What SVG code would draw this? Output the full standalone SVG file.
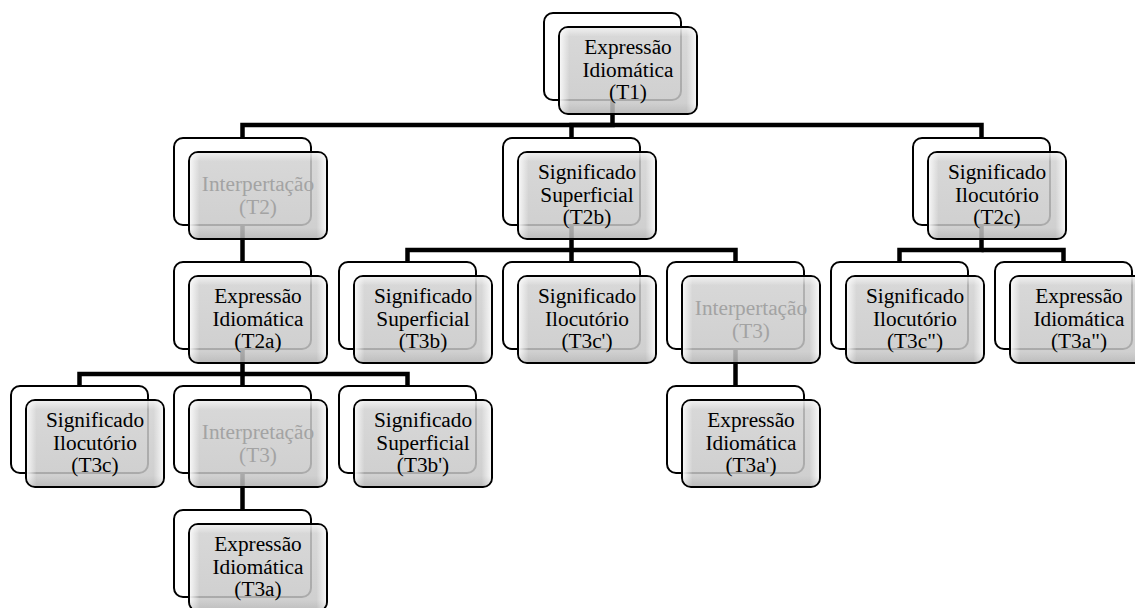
<svg xmlns="http://www.w3.org/2000/svg" width="1135" height="608" viewBox="0 0 1135 608">
<defs>
<linearGradient id="fg" x1="0" y1="0" x2="0" y2="1">
<stop offset="0" stop-color="#d2d2d2"/><stop offset="1" stop-color="#c6c6c6"/>
</linearGradient>
<linearGradient id="bevh" x1="0" y1="0" x2="1" y2="0">
<stop offset="0" stop-color="#ffffff" stop-opacity="0.8"/><stop offset="0.07" stop-color="#ffffff" stop-opacity="0"/>
<stop offset="0.93" stop-color="#ffffff" stop-opacity="0"/><stop offset="1" stop-color="#ffffff" stop-opacity="0.8"/>
</linearGradient>
<linearGradient id="bevv" x1="0" y1="0" x2="0" y2="1">
<stop offset="0" stop-color="#ffffff" stop-opacity="0.6"/><stop offset="0.1" stop-color="#ffffff" stop-opacity="0"/>
<stop offset="0.88" stop-color="#000000" stop-opacity="0"/><stop offset="1" stop-color="#000000" stop-opacity="0.08"/>
</linearGradient>
</defs>
<style>
.back{fill:#ffffff;stroke:#000;stroke-width:2}
.front{fill:url(#fg);fill-opacity:0.85;stroke:#000;stroke-width:2}
.bh{fill:url(#bevh);stroke:none}
.bv{fill:url(#bevv);stroke:none}
.lbl{font-family:'Liberation Serif','Times New Roman',serif;font-size:21.3px;text-anchor:middle;fill:#000}
.dim{fill:#a3a3a3}
.conn{fill:none;stroke:#000;stroke-width:4.5;stroke-linejoin:miter}
</style>
<g id="connectors">
<path class="conn" d="M612.5,100 V125 H242.5 V138"/>
<path class="conn" d="M612.5,125 H571.5 V138"/>
<path class="conn" d="M612.5,125 H981.5 V138"/>
<path class="conn" d="M242.5,225 V262"/>
<path class="conn" d="M571.5,225 V250 H407.5 V262"/>
<path class="conn" d="M571.5,250 V262"/>
<path class="conn" d="M571.5,250 H735.5 V262"/>
<path class="conn" d="M981.5,225 V250 H899.5 V262"/>
<path class="conn" d="M981.5,250 H1063.5 V262"/>
<path class="conn" d="M242.5,349 V374 H79.5 V386"/>
<path class="conn" d="M242.5,374 V386"/>
<path class="conn" d="M242.5,374 H407.5 V386"/>
<path class="conn" d="M735.5,349 V386"/>
<path class="conn" d="M242.5,473 V510"/>
</g>
<g id="n-t1">
<rect class="back" x="544" y="13" width="137" height="87" rx="9"/>
<rect class="front" x="559" y="27" width="138" height="87" rx="9"/>
<rect class="bh" x="560" y="28" width="136" height="85" rx="8"/><rect class="bv" x="560" y="28" width="136" height="85" rx="8"/>
<text class="lbl"><tspan x="628" y="54">Expressão</tspan><tspan x="628" y="76.5">Idiomática</tspan><tspan x="628" y="99">(T1)</tspan></text>
</g>
<g id="n-t2">
<rect class="back" x="174" y="138" width="137" height="87" rx="9"/>
<rect class="front" x="189" y="152" width="138" height="87" rx="9"/>
<rect class="bh" x="190" y="153" width="136" height="85" rx="8"/><rect class="bv" x="190" y="153" width="136" height="85" rx="8"/>
<text class="lbl dim"><tspan x="258" y="191">Interpertação</tspan><tspan x="258" y="213.5">(T2)</tspan></text>
</g>
<g id="n-t2b">
<rect class="back" x="503" y="138" width="137" height="87" rx="9"/>
<rect class="front" x="518" y="152" width="138" height="87" rx="9"/>
<rect class="bh" x="519" y="153" width="136" height="85" rx="8"/><rect class="bv" x="519" y="153" width="136" height="85" rx="8"/>
<text class="lbl"><tspan x="587" y="179">Significado</tspan><tspan x="587" y="201.5">Superficial</tspan><tspan x="587" y="224">(T2b)</tspan></text>
</g>
<g id="n-t2c">
<rect class="back" x="913" y="138" width="137" height="87" rx="9"/>
<rect class="front" x="928" y="152" width="138" height="87" rx="9"/>
<rect class="bh" x="929" y="153" width="136" height="85" rx="8"/><rect class="bv" x="929" y="153" width="136" height="85" rx="8"/>
<text class="lbl"><tspan x="997" y="179">Significado</tspan><tspan x="997" y="201.5">Ilocutório</tspan><tspan x="997" y="224">(T2c)</tspan></text>
</g>
<g id="n-t2a">
<rect class="back" x="174" y="262" width="137" height="87" rx="9"/>
<rect class="front" x="189" y="276" width="138" height="87" rx="9"/>
<rect class="bh" x="190" y="277" width="136" height="85" rx="8"/><rect class="bv" x="190" y="277" width="136" height="85" rx="8"/>
<text class="lbl"><tspan x="258" y="303">Expressão</tspan><tspan x="258" y="325.5">Idiomática</tspan><tspan x="258" y="348">(T2a)</tspan></text>
</g>
<g id="n-t3b">
<rect class="back" x="339" y="262" width="137" height="87" rx="9"/>
<rect class="front" x="354" y="276" width="138" height="87" rx="9"/>
<rect class="bh" x="355" y="277" width="136" height="85" rx="8"/><rect class="bv" x="355" y="277" width="136" height="85" rx="8"/>
<text class="lbl"><tspan x="423" y="303">Significado</tspan><tspan x="423" y="325.5">Superficial</tspan><tspan x="423" y="348">(T3b)</tspan></text>
</g>
<g id="n-t3c1">
<rect class="back" x="503" y="262" width="137" height="87" rx="9"/>
<rect class="front" x="518" y="276" width="138" height="87" rx="9"/>
<rect class="bh" x="519" y="277" width="136" height="85" rx="8"/><rect class="bv" x="519" y="277" width="136" height="85" rx="8"/>
<text class="lbl"><tspan x="587" y="303">Significado</tspan><tspan x="587" y="325.5">Ilocutório</tspan><tspan x="587" y="348">(T3c')</tspan></text>
</g>
<g id="n-t3-mid">
<rect class="back" x="667" y="262" width="137" height="87" rx="9"/>
<rect class="front" x="682" y="276" width="138" height="87" rx="9"/>
<rect class="bh" x="683" y="277" width="136" height="85" rx="8"/><rect class="bv" x="683" y="277" width="136" height="85" rx="8"/>
<text class="lbl dim"><tspan x="751" y="315">Interpertação</tspan><tspan x="751" y="337.5">(T3)</tspan></text>
</g>
<g id="n-t3c2">
<rect class="back" x="831" y="262" width="137" height="87" rx="9"/>
<rect class="front" x="846" y="276" width="138" height="87" rx="9"/>
<rect class="bh" x="847" y="277" width="136" height="85" rx="8"/><rect class="bv" x="847" y="277" width="136" height="85" rx="8"/>
<text class="lbl"><tspan x="915" y="303">Significado</tspan><tspan x="915" y="325.5">Ilocutório</tspan><tspan x="915" y="348">(T3c")</tspan></text>
</g>
<g id="n-t3a2">
<rect class="back" x="995" y="262" width="137" height="87" rx="9"/>
<rect class="front" x="1010" y="276" width="138" height="87" rx="9"/>
<rect class="bh" x="1011" y="277" width="136" height="85" rx="8"/><rect class="bv" x="1011" y="277" width="136" height="85" rx="8"/>
<text class="lbl"><tspan x="1079" y="303">Expressão</tspan><tspan x="1079" y="325.5">Idiomática</tspan><tspan x="1079" y="348">(T3a")</tspan></text>
</g>
<g id="n-t3c">
<rect class="back" x="11" y="386" width="137" height="87" rx="9"/>
<rect class="front" x="26" y="400" width="138" height="87" rx="9"/>
<rect class="bh" x="27" y="401" width="136" height="85" rx="8"/><rect class="bv" x="27" y="401" width="136" height="85" rx="8"/>
<text class="lbl"><tspan x="95" y="427">Significado</tspan><tspan x="95" y="449.5">Ilocutório</tspan><tspan x="95" y="472">(T3c)</tspan></text>
</g>
<g id="n-t3-left">
<rect class="back" x="174" y="386" width="137" height="87" rx="9"/>
<rect class="front" x="189" y="400" width="138" height="87" rx="9"/>
<rect class="bh" x="190" y="401" width="136" height="85" rx="8"/><rect class="bv" x="190" y="401" width="136" height="85" rx="8"/>
<text class="lbl dim"><tspan x="258" y="439">Interpretação</tspan><tspan x="258" y="461.5">(T3)</tspan></text>
</g>
<g id="n-t3b1">
<rect class="back" x="339" y="386" width="137" height="87" rx="9"/>
<rect class="front" x="354" y="400" width="138" height="87" rx="9"/>
<rect class="bh" x="355" y="401" width="136" height="85" rx="8"/><rect class="bv" x="355" y="401" width="136" height="85" rx="8"/>
<text class="lbl"><tspan x="423" y="427">Significado</tspan><tspan x="423" y="449.5">Superficial</tspan><tspan x="423" y="472">(T3b')</tspan></text>
</g>
<g id="n-t3a1">
<rect class="back" x="667" y="386" width="137" height="87" rx="9"/>
<rect class="front" x="682" y="400" width="138" height="87" rx="9"/>
<rect class="bh" x="683" y="401" width="136" height="85" rx="8"/><rect class="bv" x="683" y="401" width="136" height="85" rx="8"/>
<text class="lbl"><tspan x="751" y="427">Expressão</tspan><tspan x="751" y="449.5">Idiomática</tspan><tspan x="751" y="472">(T3a')</tspan></text>
</g>
<g id="n-t3a">
<rect class="back" x="174" y="510" width="137" height="87" rx="9"/>
<rect class="front" x="189" y="524" width="138" height="87" rx="9"/>
<rect class="bh" x="190" y="525" width="136" height="85" rx="8"/><rect class="bv" x="190" y="525" width="136" height="85" rx="8"/>
<text class="lbl"><tspan x="258" y="551">Expressão</tspan><tspan x="258" y="573.5">Idiomática</tspan><tspan x="258" y="596">(T3a)</tspan></text>
</g>
</svg>
